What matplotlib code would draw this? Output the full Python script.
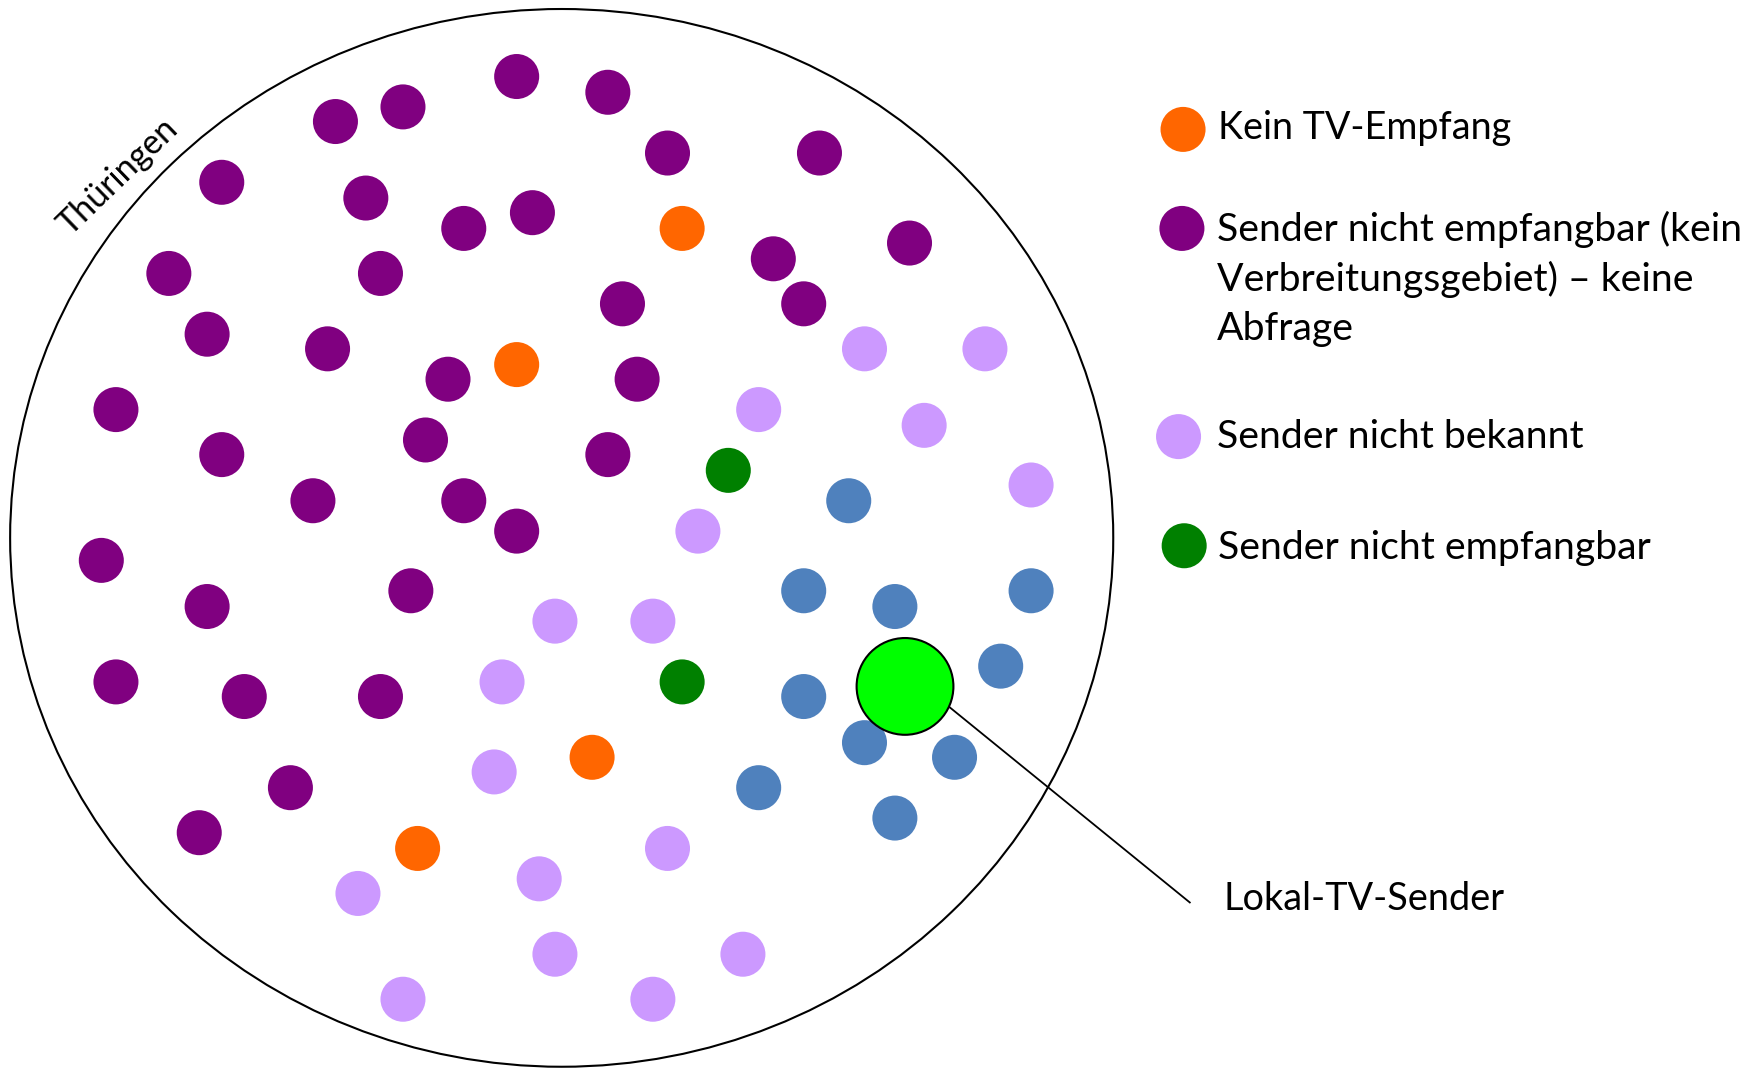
import matplotlib
matplotlib.use('Agg')
import matplotlib.pyplot as plt
from matplotlib.patches import Circle, Ellipse

plt.rcParams['font.family'] = ['Lato', 'DejaVu Sans']

# positions (in pixels of the 1568x950 view)
purple_x = [459, 540, 358, 298, 593, 728, 197, 325, 473, 412, 808, 687, 150, 338, 553, 714, 184, 291,
            398, 566, 103, 378, 197, 540, 278, 412, 459, 90, 365, 184, 103, 217, 338, 258, 177]
purple_y = [68, 82, 95, 108, 136, 136, 162, 176, 189, 203, 216, 230, 243, 243, 270, 270, 297, 310,
            337, 337, 364, 391, 404, 404, 445, 445, 472, 498, 525, 539, 606, 619, 619, 700, 740]
orange_x = [606, 459, 526, 371]
orange_y = [203, 324, 673, 754]
light_x = [768, 875, 674, 821, 916, 620, 493, 580, 446, 439, 593, 479, 318, 493, 660, 358, 580]
light_y = [310, 310, 364, 378, 431, 472, 552, 552, 606, 686, 754, 781, 794, 848, 848, 888, 888]
green_x = [647, 606]
green_y = [418, 606]
blue_x = [754, 714, 795, 916, 889, 714, 768, 848, 674, 795]
blue_y = [445, 525, 539, 525, 592, 619, 660, 673, 700, 727]

legend_labels = ['Kein TV-Empfang',
                 'Sender nicht empfangbar (kein\nVerbreitungsgebiet) – keine\nAbfrage',
                 'Sender nicht bekannt',
                 'Sender nicht empfangbar']
legend_x = [1051, 1050, 1047, 1052]
legend_y = [115, 203, 388, 485]
text_x = [1082, 1081, 1081, 1082]
text_y = [114, 248, 388, 487]
text_size = [27.2, 28.3, 28.3, 28.3]

c_orange = '#FF6600'
c_purple = '#800080'
c_light = '#CC99FF'
c_green = '#008000'
c_blue = '#4F81BD'

fig = plt.figure(figsize=(17.65, 10.69), dpi=100)
ax = fig.add_axes([0, 0, 1, 1])
ax.set_xlim(0, 1568)
ax.set_ylim(950, 0)
ax.axis('off')

# the outline is a bit wider than high
ax.add_patch(Ellipse((499, 478), 980, 940, fc='white', ec='black', lw=1.5, zorder=1))

# line from the big green dot to its label
ax.plot([843, 1057], [628, 802], color='black', lw=1.3, zorder=2)

for xs, ys, c in [(purple_x, purple_y, c_purple), (orange_x, orange_y, c_orange),
                  (light_x, light_y, c_light), (green_x, green_y, c_green), (blue_x, blue_y, c_blue)]:
    for x, y in zip(xs, ys):
        ax.add_patch(Circle((x, y), 20, fc=c, ec='none', zorder=3))

ax.add_patch(Circle((804, 610), 43, fc='#00FF00', ec='black', lw=1.5, zorder=4))

for x, y, c in zip(legend_x, legend_y, [c_orange, c_purple, c_light, c_green]):
    ax.add_patch(Circle((x, y), 20, fc=c, ec='none', zorder=3))

for i, lab in enumerate(legend_labels):
    ax.text(text_x[i], text_y[i], lab, fontsize=text_size[i], va='center', ha='left', color='black',
            linespacing=1.43)

ax.text(1087, 799, 'Lokal-TV-Sender', fontsize=27.3, va='center', ha='left', color='black')
ax.text(105, 157, 'Thüringen', fontsize=24.5, rotation=44, rotation_mode='anchor',
        va='center', ha='center', color='black')

fig.savefig('out.png', dpi=100)
